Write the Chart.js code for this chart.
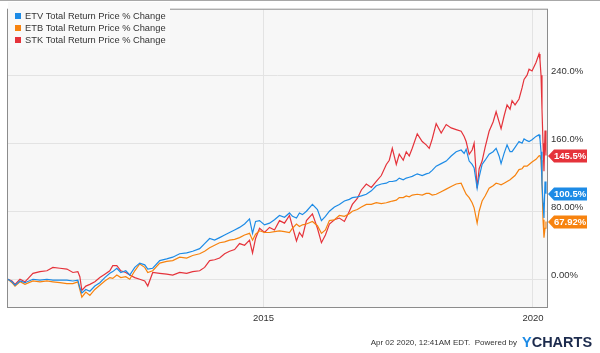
<!DOCTYPE html>
<html>
<head>
<meta charset="utf-8">
<script src="https://cdn.jsdelivr.net/npm/chart.js@4.4.1/dist/chart.umd.min.js"></script>
<style>
  html, body { margin: 0; padding: 0; background: #fff; }
  #wrap { width: 600px; height: 353px; position: relative; }
</style>
</head>
<body>
<div id="wrap"><canvas id="retChart" width="600" height="353"></canvas></div>
<script>
/**
 * ETV / ETB / STK total return chart (YCharts style)
 */

// Dates as decimal years
const dates = [
    2010.260, 2010.334, 2010.390, 2010.482, 2010.575, 2010.723, 2010.853, 2010.982, 2011.093, 2011.223,
    2011.353, 2011.464, 2011.556, 2011.593, 2011.630, 2011.704, 2011.779, 2011.871, 2011.964, 2012.056,
    2012.149, 2012.204, 2012.279, 2012.353, 2012.445, 2012.519, 2012.612, 2012.704, 2012.797, 2012.853,
    2012.945, 2013.075, 2013.204, 2013.316, 2013.445, 2013.575, 2013.686, 2013.816, 2013.908, 2014.001,
    2014.093, 2014.186, 2014.279, 2014.371, 2014.464, 2014.556, 2014.649, 2014.741, 2014.797, 2014.853,
    2014.927, 2015.019, 2015.112, 2015.204, 2015.297, 2015.390, 2015.482, 2015.538, 2015.612, 2015.667,
    2015.723, 2015.797, 2015.908, 2016.001, 2016.075, 2016.149, 2016.223, 2016.316, 2016.408, 2016.501,
    2016.593, 2016.649, 2016.741, 2016.816, 2016.908, 2017.001, 2017.093, 2017.186, 2017.279, 2017.334,
    2017.390, 2017.464, 2017.519, 2017.593, 2017.649, 2017.704, 2017.760, 2017.853, 2017.945, 2018.019,
    2018.075, 2018.130, 2018.204, 2018.297, 2018.390, 2018.482, 2018.575, 2018.667, 2018.723, 2018.760,
    2018.816, 2018.871, 2018.908, 2018.964, 2019.001, 2019.056, 2019.112, 2019.186, 2019.260, 2019.316,
    2019.371, 2019.408, 2019.464, 2019.519, 2019.575, 2019.612, 2019.667, 2019.741, 2019.797, 2019.834,
    2019.890, 2019.927, 2019.982, 2020.056, 2020.112, 2020.130, 2020.149, 2020.167, 2020.186, 2020.204,
    2020.223, 2020.241
];

// Total return % change per series
const etvValues = [
    0, -3, -7, -2, -4, 0, -1, 0, -1, -1,
    -1, -2, -1, -10, -16, -12, -14, -8, -4, 2,
    7, 9, 13, 8, 10, 5, 14, 19, 17, 12,
    13, 22, 24, 26, 30, 31, 33, 36, 42, 48,
    46, 49, 52, 55, 58, 61, 65, 71, 54, 68,
    69, 64, 66, 70, 75, 73, 78, 74, 72, 78,
    76, 80, 88, 82, 69, 74, 80, 85, 88, 92,
    94, 96, 97, 98, 100, 104, 110, 112, 113, 115,
    115, 116, 119, 117, 119, 120, 121, 124, 122, 124,
    125, 128, 133, 136, 139, 145, 150, 152, 148, 153,
    139, 135, 131, 107, 120, 135, 140, 147, 150, 154,
    145, 136, 148, 158, 150, 150, 155, 162, 160, 165,
    163, 162, 164, 168, 170, 165, 150, 112, 90, 72,
    115, 100.5
];
const etbValues = [
    0, -4, -8, -3, -6, -2, -3, -2, -3, -4,
    -5, -5, -3, -12, -21, -15, -19, -12, -7, -2,
    2, 1, 5, 2, 3, 0, 10, 18, 14, 8,
    10, 19, 21, 22, 26, 25, 28, 30, 33, 37,
    40, 43, 44, 46, 47, 49, 52, 54, 46, 53,
    57, 55, 55, 56, 57, 56, 55, 60, 65, 62,
    64, 65, 68, 63, 54, 58, 69, 70, 75, 74,
    77, 80, 82, 85, 88, 88, 90, 89, 90, 91,
    92, 93, 96, 96, 98, 97, 99, 100, 99, 101,
    101, 99, 100, 103, 106, 109, 112, 113, 105, 100,
    96, 90, 84, 66, 80, 92, 98, 107, 110, 113,
    112, 111, 113, 115, 117, 119, 122, 129, 130, 133,
    133, 135, 138, 141, 145, 146, 140, 115, 70, 49,
    60, 67.92
];
const stkValues = [
    0, -2, -6, 0, -3, 7, 9, 10, 14, 13,
    12, 8, 9, 3, -13, -8, -6, -3, 2, 6,
    10, 16, 16, 10, 8, 5, 2, 0, -2, -8,
    8, 7, 6, 5, 8, 7, 9, 10, 14, 22,
    23, 25, 30, 33, 35, 42, 40, 46, 31, 48,
    60, 55, 61, 58, 69, 66, 75, 62, 45, 55,
    50, 69, 77, 60, 43, 52, 65, 70, 72, 68,
    80, 88, 95, 105, 112, 108, 115, 122, 135, 140,
    154, 135, 147, 140, 150, 145, 154, 171, 162, 158,
    154, 165, 183, 172, 182, 178, 176, 174, 168, 162,
    147, 152, 160, 107, 130, 139, 155, 174, 185, 197,
    185, 177, 192, 205, 200, 210, 205, 212, 225, 235,
    240, 247, 245, 255, 265, 258, 240, 200, 160, 127,
    175, 145.5
];

const seriesNames = [
    'ETV Total Return Price % Change',
    'ETB Total Return Price % Change',
    'STK Total Return Price % Change'
];
const seriesColors = ['#1d8be6', '#f7830f', '#e5333b'];
const endLabels = ['100.5%', '67.92%', '145.5%'];

const yTicks = [0, 80, 160, 240];
const yTickLabels = ['0.00%', '80.00%', '160.0%', '240.0%'];
const xTicks = [2015, 2020];

const FONT = "'Liberation Sans', Arial, Helvetica, sans-serif";

/* ===========================================================
   PLUGINS
=========================================================== */

// Light plot background + frame
const frame = {
    id: 'frame',
    beforeDraw(chart) {
        const { ctx, chartArea: a } = chart;
        ctx.save();
        ctx.fillStyle = '#f7f7f7';
        ctx.fillRect(a.left, a.top, a.right - a.left, a.bottom - a.top);
        ctx.restore();
    },
    afterDraw(chart) {
        const { ctx, chartArea: a } = chart;
        ctx.save();
        ctx.strokeStyle = '#8c8c8c';
        ctx.lineWidth = 1;
        ctx.strokeRect(a.left - 0.5, a.top - 0.5, a.right - a.left + 1, a.bottom - a.top + 1);
        ctx.strokeStyle = '#a8a8a8';
        ctx.beginPath();
        ctx.moveTo(0, 0.5);
        ctx.lineTo(chart.width, 0.5);
        ctx.stroke();
        ctx.restore();
    }
};

// Legend box in the top-left corner
const legendBox = {
    id: 'legendBox',
    afterDraw(chart) {
        const { ctx, chartArea: a } = chart;
        ctx.save();
        ctx.fillStyle = '#f9f9f9';
        ctx.fillRect(a.left, 2, 162, 46);
        ctx.font = '9.3px ' + FONT;
        ctx.textBaseline = 'middle';
        seriesNames.forEach((name, i) => {
            const y = 16 + i * 12;
            ctx.fillStyle = seriesColors[i];
            ctx.fillRect(a.left + 7, y - 3, 6, 6);
            ctx.fillStyle = '#333';
            ctx.fillText(name, a.left + 17, y + 0.5);
        });
        ctx.restore();
    }
};

// Coloured flags with the latest values on the right
const endFlags = {
    id: 'endFlags',
    afterDraw(chart) {
        const { ctx, chartArea: a } = chart;
        const yScale = chart.scales.y;
        ctx.save();
        ctx.font = 'bold 9.5px ' + FONT;
        ctx.textBaseline = 'middle';
        chart.data.datasets.forEach((ds, i) => {
            const last = ds.data[ds.data.length - 1];
            const y = Math.round(yScale.getPixelForValue(last.y));
            const x0 = a.right + 1;
            ctx.fillStyle = seriesColors[i];
            ctx.beginPath();
            ctx.moveTo(x0, y);
            ctx.lineTo(x0 + 6, y - 6.5);
            ctx.lineTo(x0 + 39, y - 6.5);
            ctx.lineTo(x0 + 39, y + 6.5);
            ctx.lineTo(x0 + 6, y + 6.5);
            ctx.closePath();
            ctx.fill();
            ctx.fillStyle = '#fff';
            ctx.fillText(endLabels[i], x0 + 6, y + 0.5);
        });
        ctx.restore();
    }
};

// Timestamp + YCharts mark
const footer = {
    id: 'footer',
    afterDraw(chart) {
        const { ctx } = chart;
        ctx.save();
        ctx.textBaseline = 'alphabetic';
        ctx.textAlign = 'right';
        ctx.font = '8px ' + FONT;
        ctx.fillStyle = '#333';
        ctx.fillText('Apr 02 2020, 12:41AM EDT.  Powered by', 517, 345);
        ctx.textAlign = 'left';
        ctx.font = 'bold 14.5px ' + FONT;
        ctx.fillStyle = '#1d8be6';
        ctx.fillText('Y', 522, 347);
        const yw = ctx.measureText('Y').width;
        ctx.fillStyle = '#1c2b4d';
        ctx.fillText('CHARTS', 522 + yw, 347);
        ctx.restore();
    }
};

/* ===========================================================
   CHART
=========================================================== */

function buildDataset(values, i) {
    return {
        label: seriesNames[i],
        data: values.map((v, k) => ({ x: dates[k], y: v })),
        borderColor: seriesColors[i],
        borderWidth: 1.2,
        pointRadius: 0,
        tension: 0,
        fill: false
    };
}

const ctx = document.getElementById('retChart').getContext('2d');
new Chart(ctx, {
    type: 'line',
    data: {
        datasets: [
            buildDataset(etvValues, 0),
            buildDataset(etbValues, 1),
            buildDataset(stkValues, 2)
        ]
    },
    options: {
        responsive: false,
        animation: false,
        layout: { padding: { left: 8, top: 7, right: 0, bottom: 0 } },
        plugins: {
            legend: { display: false },
            tooltip: { enabled: false }
        },
        scales: {
            x: {
                type: 'linear',
                min: 2010.26,
                max: 2020.26,
                afterBuildTicks: s => { s.ticks = xTicks.map(v => ({ value: v })); },
                afterFit: s => { s.height = 46; },
                grid: { color: '#e3e3e3', drawTicks: false },
                border: { display: false },
                ticks: {
                    padding: 6,
                    color: '#333',
                    font: { family: FONT, size: 9.5 },
                    callback: v => String(v)
                }
            },
            y: {
                position: 'right',
                min: -32.6,
                max: 317,
                afterBuildTicks: s => { s.ticks = yTicks.map(v => ({ value: v })); },
                afterFit: s => { s.width = 53; },
                grid: { color: '#e3e3e3', drawTicks: false },
                border: { display: false },
                ticks: {
                    padding: 4,
                    labelOffset: -4,
                    color: '#333',
                    font: { family: FONT, size: 9.5 },
                    callback: v => yTickLabels[yTicks.indexOf(v)]
                }
            }
        }
    },
    plugins: [frame, legendBox, endFlags, footer]
});
</script>
</body>
</html>
